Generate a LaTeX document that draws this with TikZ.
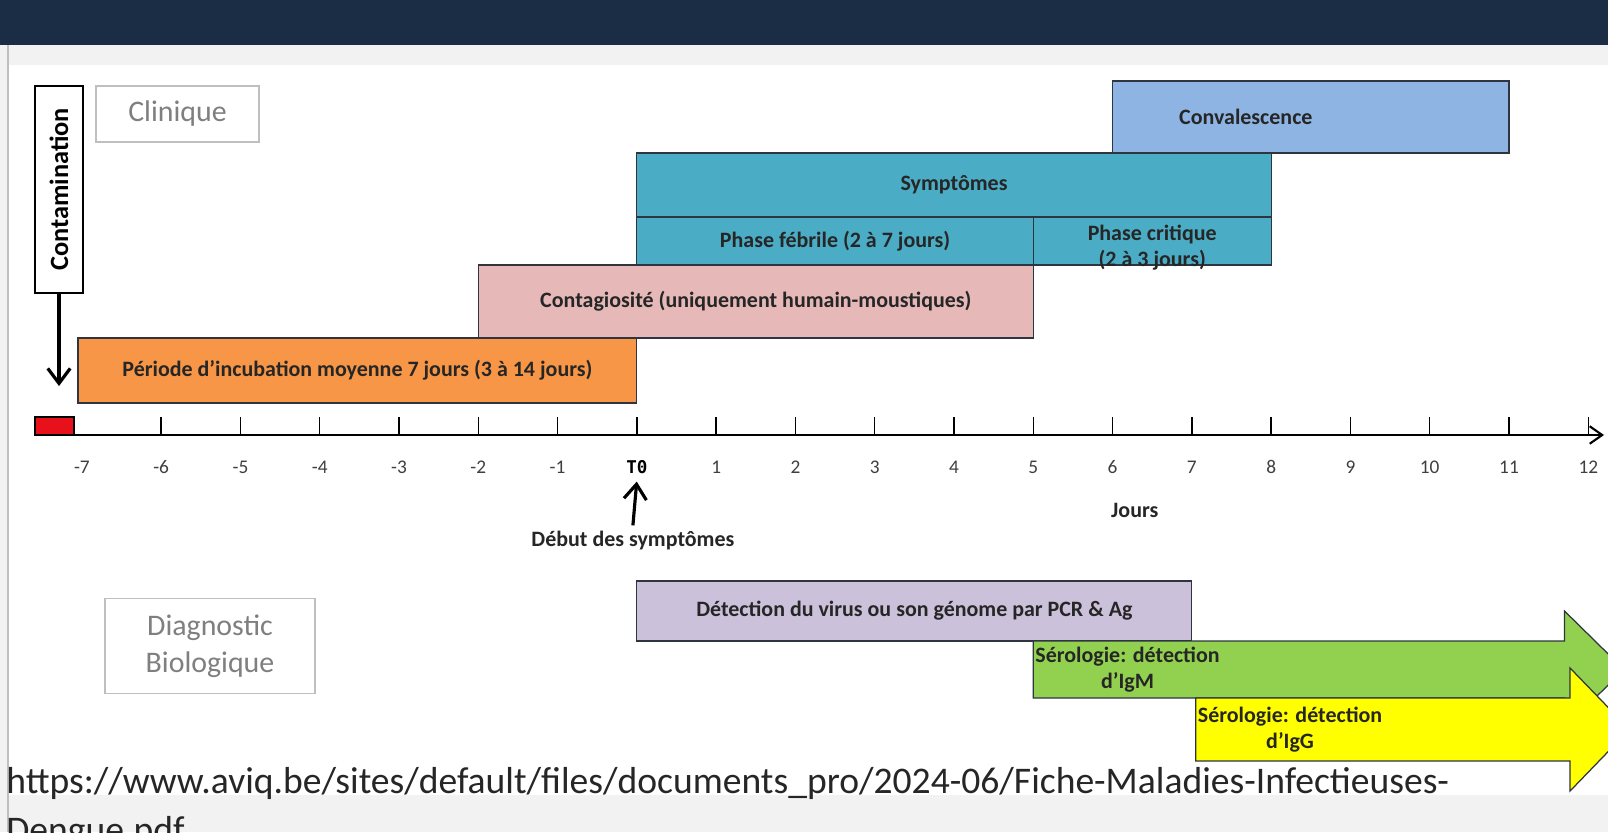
\documentclass[tikz,border=0pt]{standalone}
\usepackage{fontspec}
\setmainfont{Carlito}
\newfontfamily\monoFont{DejaVu Sans Mono}
\usetikzlibrary{arrows.meta}
\definecolor{titleColor}{HTML}{1B2D45}
\definecolor{pageGrey}{HTML}{F2F2F2}
\definecolor{frameGrey}{HTML}{BFBFBF}
\definecolor{labelGrey}{HTML}{7F7F7F}
\definecolor{tickGrey}{HTML}{3F3F3F}
\definecolor{textDark}{HTML}{262626}
\definecolor{boxLine}{HTML}{2E3440}
\definecolor{incubColor}{HTML}{F79646}
\definecolor{contagColor}{HTML}{E6B9B8}
\definecolor{symptColor}{HTML}{4BACC6}
\definecolor{convaColor}{HTML}{8EB4E3}
\definecolor{detectColor}{HTML}{CCC1DA}
\definecolor{igmColor}{HTML}{92D050}
\definecolor{iggColor}{HTML}{FFFF00}
\definecolor{contamColor}{HTML}{E8101A}
\tikzstyle{pixels} = [x = 0.02cm, y = -0.02cm]
\tikzstyle{days} = [xshift = 12.74cm, x = 1.586cm]
\tikzstyle{phaseStyle} = [draw=boxLine, line width=0.7pt]
\tikzstyle{phaseText} = [font=\fontsize{12.5}{15}\selectfont\bfseries, text=textDark, align=center]
\tikzstyle{tickText} = [font=\fontsize{11}{13}\selectfont, text=tickGrey]
\tikzstyle{sectionBox} = [draw=frameGrey, line width=0.6pt, text=labelGrey, align=center, font=\fontsize{17}{21}\selectfont]
\tikzstyle{blackArrow} = [-{Straight Barb[length=3mm, width=4.5mm]}, line width=1.8pt]
\tikzstyle{urlText} = [font=\fontsize{21.4}{25}\selectfont, text=textDark, anchor=base west, inner sep=0pt]
\newcommand{\phaseBox}[8][]{\filldraw [phaseStyle, fill=#7] (#3,#5) rectangle (#4,#6) node [phaseText, midway, #1] (#2) {#8};}
\newcommand{\serologyArrow}[7]{
  \filldraw [phaseStyle, fill=#6] (#2,#4) -- (#3,#4) -- (#3,#4-30) -- (#3+0.75,{(#4+#5)/2})
    -- (#3,#5+30) -- (#3,#5) -- (#2,#5) -- cycle;
  \node [phaseText, anchor=west, inner sep=1pt] (#1) at (#2,{(#4+#5)/2}) {#7};
}

\begin{document}
\begin{tikzpicture}[pixels]
    \useasboundingbox (0,0) rectangle (1608,832);
    \clip (0,0) rectangle (1608,832);
    \fill [pageGrey] (0,45) rectangle (1608,832);
    \fill [white] (9,65) rectangle (1608,795);
    \fill [titleColor] (0,0) rectangle (1608,45);
    \draw [frameGrey, line width=0.8pt] (8,45) -- (8,832);
    \node [sectionBox, minimum width=3.26cm, minimum height=1.12cm] (clinique) at (177.5,114) {Clinique};
    \node [sectionBox, minimum width=4.2cm, minimum height=1.9cm] (diagBio) at (210,646) {Diagnostic\\Biologique};
    \node [draw, fill=white, line width=0.8pt, rotate=90, inner sep=0pt, minimum width=4.14cm, minimum height=0.96cm,
      font=\fontsize{15}{18}\selectfont\bfseries] (contam) at (59,189.5) {Contamination};
    \coordinate (contamTip) at (59,386);
    \draw [blackArrow] (contam.west) -- (contamTip);
    \filldraw [draw=black, line width=0.7pt, fill=contamColor] (35,417) rectangle (74,435);
    \draw [line width=1.2pt, -{Straight Barb[length=2.5mm, width=3.5mm]}] (35,435) -- (1604,435);
    \begin{scope}[days]
      \phaseBox[xshift=-1.3cm]{convalescence}{6}{11}{81}{153}{convaColor}{Convalescence}
      \phaseBox{symptomes}{0}{8}{153}{217}{symptColor}{Symptômes}
      \phaseBox{febrile}{0}{5}{217}{265}{symptColor}{Phase fébrile (2 à 7 jours)}
      \phaseBox[yshift=-0.13cm]{critique}{5}{8}{217}{265}{symptColor}{Phase critique\\(2 à 3 jours)}
      \phaseBox{contagiosite}{-2}{5}{265}{338}{contagColor}{Contagiosité (uniquement humain-moustiques)}
      \phaseBox{incubation}{-7.05}{0}{338}{403}{incubColor}{Période d'incubation moyenne 7 jours (3 à 14 jours)}
      \foreach \d in {-6,...,12} {
        \draw [line width=0.8pt] (\d,417) -- (\d,435);
      }
      \foreach \d in {-7,...,-1,1,2,...,12} {
        \node [tickText] (tick\d) at (\d,467) {\d};
      }
      \node [font=\fontsize{10}{12}\selectfont\monoFont\bfseries] (tZero) at (0,467) {T0};
      \node [phaseText] (jours) at (6.28,510) {Jours};
      \node [phaseText] (debutSympt) at (-0.05,541) {Début des symptômes};
      \draw [blackArrow, shorten >=1pt] (debutSympt.north) -- (tZero.south);
      \phaseBox{detection}{0}{7}{581}{641}{detectColor}{Détection du virus ou son génome par PCR \& Ag}
      \serologyArrow{igm}{5}{11.7}{641}{698}{igmColor}{Sérologie: détection\\d'IgM}
      \serologyArrow{igg}{7.05}{11.77}{698}{761}{iggColor}{Sérologie: détection\\d'IgG}
    \end{scope}
    \node [urlText] (urlLine) at (6,793) {https://www.aviq.be/sites/default/files/documents\_pro/2024-06/Fiche-Maladies-Infectieuses-};
    \node [urlText] (urlEnd) at (6,842) {Dengue.pdf};
\end{tikzpicture}
\end{document}
